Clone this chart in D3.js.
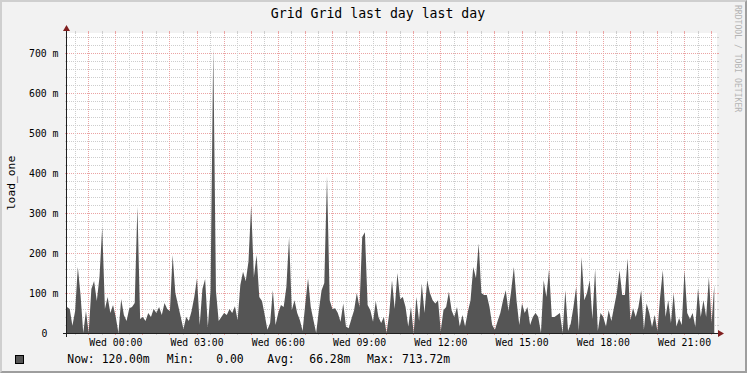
<!DOCTYPE html>
<html><head><meta charset="utf-8">
<script src="https://cdn.jsdelivr.net/npm/d3@7"></script>
<style>
html,body{margin:0;padding:0;background:#f2f2f2;}
svg{display:block;}
text{font-family:"DejaVu Sans Mono",monospace;}
</style></head>
<body>
<svg id="chart" width="747" height="373"></svg>
<script>
// ---- data ----
const chartTitle = "Grid Grid last day last day";
const yAxisTitle = "load_one";
const watermark = "RRDTOOL / TOBI OETIKER";
const stepMinutes = 6;
// load_one values in milli-units, one every 6 minutes starting Tue 22:13
const loadMilli = [
65,60,18,55,165,95,0,55,0,110,
130,80,140,265,60,90,50,70,40,0,
85,45,30,62,65,75,316,35,40,30,
50,40,60,50,65,45,75,60,55,195,
100,70,40,10,40,30,55,90,137,20,
110,135,15,105,713,105,30,40,50,45,
60,50,67,32,120,153,130,178,320,140,
195,90,80,45,8,25,107,20,50,70,
65,115,240,57,82,50,32,5,74,137,
65,32,0,57,107,125,392,82,60,62,
50,28,74,16,12,35,57,100,65,240,
252,70,57,28,80,40,25,40,0,50,
132,60,150,85,90,65,16,65,0,90,
30,124,50,132,100,82,74,82,5,57,
65,103,57,40,65,16,45,16,53,82,
165,137,224,100,95,95,65,20,8,30,
50,82,107,55,105,165,80,20,74,50,
65,20,40,50,40,0,132,90,160,40,
40,45,50,0,107,5,24,65,115,5,
190,82,100,132,35,160,5,50,40,16,
57,30,65,100,157,95,95,187,32,62,
40,65,107,8,74,50,15,45,5,90,
157,40,82,25,100,16,37,20,157,50,
35,50,15,112,40,82,40,140,25,120
];
const yTickValues = [0,100,200,300,400,500,600,700];
const yTickLabels = ["0","100 m","200 m","300 m","400 m","500 m","600 m","700 m"];
const xTickLabels = ["Wed 00:00","Wed 03:00","Wed 06:00","Wed 09:00","Wed 12:00","Wed 15:00","Wed 18:00","Wed 21:00"];
const legendLabels = ["Now:","Min:","Avg:","Max:"];
const legendValues = ["120.00m","0.00","66.28m","713.72m"];

// ---- layout ----
const W = 747, H = 373;
const X0 = 67, X1 = 717, Y0 = 333, Y1 = 33;
const t0 = new Date(2024,0,2,22,13);
const t1 = new Date(t0.getTime() + 24*3600*1000);
const series = loadMilli.map((v,i)=>({t:new Date(t0.getTime()+i*stepMinutes*60000), v}));

const svg = d3.select("#chart");
const x = d3.scaleTime().domain([t0,t1]).range([X0,X1]);
const y = d3.scaleLinear().domain([0,750]).range([Y0,Y1]);

// background + 3D border
svg.append("rect").attr("width",W).attr("height",H).attr("fill","#f2f2f2");
svg.append("path").attr("d",`M0,0H${W}V${H}H0Z M2,2V${H-2}H${W-2}V2Z`).attr("fill","#cfcfcf").attr("fill-rule","evenodd");
svg.append("path").attr("d",`M${W},0V${H}H0L2,${H-2}H${W-2}V2Z`).attr("fill","#9e9e9e");

// canvas
svg.append("rect").attr("x",X0).attr("y",Y1).attr("width",X1-X0).attr("height",Y0-Y1).attr("fill","#ffffff");

const grid = "#cdcdcd";
const mgrid = "#eba3a3";
const g = svg.append("g").attr("shape-rendering","crispEdges");

// horizontal grid (minor every 20 m, major every 100 m)
d3.range(20,751,20).forEach(v=>{
  const major = v % 100 === 0;
  const yy = Math.round(y(v)) + 0.5;
  const c = major ? mgrid : grid;
  g.append("line").attr("x1",X0-2).attr("x2",X1+2).attr("y1",yy).attr("y2",yy)
    .attr("stroke",c).attr("stroke-dasharray","1,1");
  g.append("line").attr("x1",X0-2).attr("x2",X0).attr("y1",yy).attr("y2",yy).attr("stroke",c);
  g.append("line").attr("x1",X1).attr("x2",X1+2).attr("y1",yy).attr("y2",yy).attr("stroke",c);
});
// vertical grid (minor every 30 min, major every hour)
d3.timeMinute.every(30).range(t0,t1).forEach(t=>{
  const major = t.getMinutes() === 0;
  const xx = Math.round(x(t)) + 0.5;
  const c = major ? mgrid : grid;
  g.append("line").attr("x1",xx).attr("x2",xx).attr("y1",Y1-2).attr("y2",Y0+2)
    .attr("stroke",c).attr("stroke-dasharray","1,1");
  g.append("line").attr("x1",xx).attr("x2",xx).attr("y1",Y1-2).attr("y2",Y1).attr("stroke",c);
  g.append("line").attr("x1",xx).attr("x2",xx).attr("y1",Y0).attr("y2",Y0+2).attr("stroke",c);
});

// area
const area = d3.area().x(d=>x(d.t)).y0(y(0)).y1(d=>y(d.v)).curve(d3.curveLinear);
svg.append("path").datum(series).attr("d",area).attr("fill","#555555");

// axes lines + arrows
svg.append("line").attr("x1",X0-4).attr("x2",X1+4).attr("y1",Y0+0.5).attr("y2",Y0+0.5).attr("stroke","#1f1f1f");
svg.append("line").attr("x1",X0-0.5).attr("x2",X0-0.5).attr("y1",Y0+4).attr("y2",Y1-4).attr("stroke","#1f1f1f");
svg.append("path").attr("d",`M${X1+1},${Y0+0.5-3.5}L${X1+7},${Y0+0.5}L${X1+1},${Y0+0.5+3.5}Z`).attr("fill","#801f1f");
svg.append("path").attr("d",`M${X0-0.5-3.5},${Y1-2}L${X0-0.5},${Y1-8}L${X0-0.5+3.5},${Y1-2}Z`).attr("fill","#801f1f");

// y tick labels
yTickValues.forEach((v,i)=>{
  svg.append("text").attr("x", v===0 ? 47.5 : 58.5).attr("y",y(v)+3.5)
    .attr("text-anchor","end").attr("font-size","9.8px").attr("fill","#000").text(yTickLabels[i]);
});
// x tick labels every 3 hours
const labelTimes = d3.timeHour.every(3).range(t0,t1);
labelTimes.forEach((t,i)=>{
  svg.append("text").attr("x",x(t)+0.5).attr("y",345.5).attr("text-anchor","middle")
    .attr("font-size","9.8px").attr("fill","#000").text(xTickLabels[i]);
});

// title
svg.append("text").attr("x",378).attr("y",18).attr("text-anchor","middle")
  .attr("font-size","13.2px").attr("fill","#000").text(chartTitle);
// y axis title
svg.append("text").attr("transform","translate(14.5,183) rotate(-90)").attr("text-anchor","middle")
  .attr("font-size","11.3px").attr("fill","#000").text(yAxisTitle);
// watermark
svg.append("text").attr("transform","translate(735,5) rotate(90)").attr("text-anchor","start")
  .attr("font-size","8.1px").attr("fill","#b4b4b4").text(watermark);

// legend
svg.append("rect").attr("x",15.5).attr("y",355.5).attr("width",8).attr("height",8)
  .attr("fill","#555555").attr("stroke","#000");
const lx = [67.3,166.7,267.3,367];
const vx = [101.7,216.3,309.3,402];
legendLabels.forEach((l,i)=>{
  svg.append("text").attr("x",lx[i]).attr("y",363).attr("font-size","11.4px").attr("fill","#000").text(l);
  svg.append("text").attr("x",vx[i]).attr("y",363).attr("font-size","11.4px").attr("fill","#000").text(legendValues[i]);
});
</script>
</body></html>
